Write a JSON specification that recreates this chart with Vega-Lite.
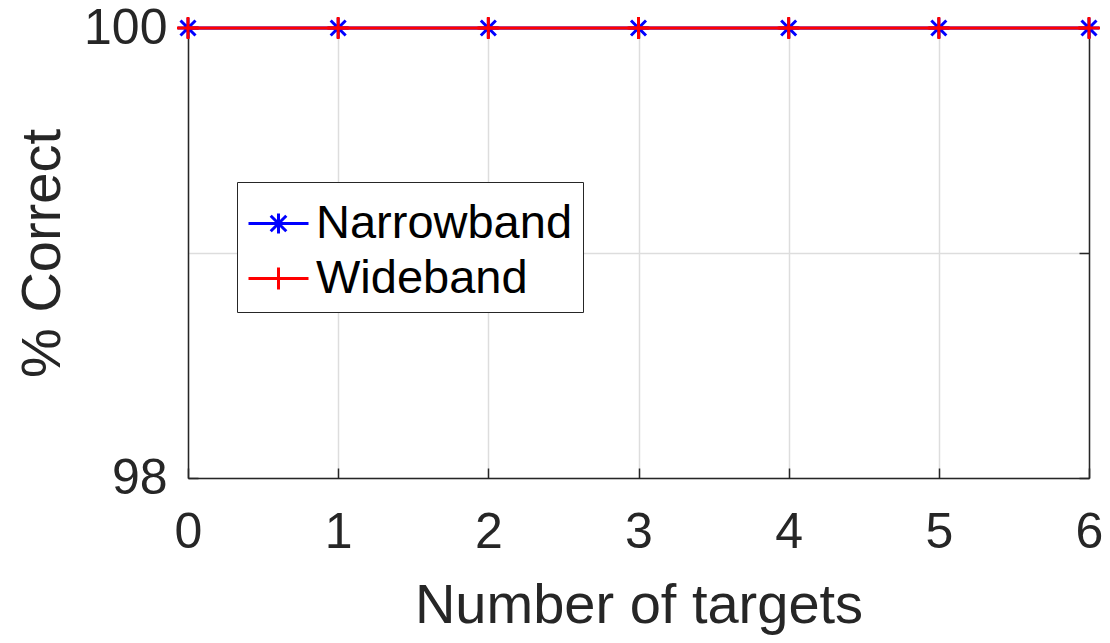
{
  "$schema": "https://vega.github.io/schema/vega-lite/v6.json",
  "autosize": "none",
  "width": 901,
  "height": 450,
  "padding": {"left": 188, "top": 28, "right": 20, "bottom": 165},
  "background": "white",
  "config": {
    "font": "Liberation Sans",
    "view": {"stroke": null},
    "axis": {
      "domainColor": "#262626",
      "domainWidth": 1.5,
      "tickColor": "#262626",
      "tickSize": -10,
      "tickWidth": 1.5,
      "gridColor": "#dddddd",
      "gridWidth": 1.5,
      "labelColor": "#262626",
      "labelFontSize": 50,
      "labelFlush": false,
      "titleColor": "#262626",
      "titleFontSize": 56,
      "titleFontWeight": "normal"
    }
  },
  "data": {
    "values": [
      {"targets": 0, "correct": 100, "series": "Narrowband"},
      {"targets": 1, "correct": 100, "series": "Narrowband"},
      {"targets": 2, "correct": 100, "series": "Narrowband"},
      {"targets": 3, "correct": 100, "series": "Narrowband"},
      {"targets": 4, "correct": 100, "series": "Narrowband"},
      {"targets": 5, "correct": 100, "series": "Narrowband"},
      {"targets": 6, "correct": 100, "series": "Narrowband"},
      {"targets": 0, "correct": 100, "series": "Wideband"},
      {"targets": 1, "correct": 100, "series": "Wideband"},
      {"targets": 2, "correct": 100, "series": "Wideband"},
      {"targets": 3, "correct": 100, "series": "Wideband"},
      {"targets": 4, "correct": 100, "series": "Wideband"},
      {"targets": 5, "correct": 100, "series": "Wideband"},
      {"targets": 6, "correct": 100, "series": "Wideband"}
    ]
  },
  "encoding": {
    "x": {
      "field": "targets", "type": "quantitative",
      "scale": {"domain": [0, 6], "nice": false, "zero": false},
      "axis": null
    },
    "y": {
      "field": "correct", "type": "quantitative",
      "scale": {"domain": [98, 100], "nice": false, "zero": false},
      "axis": null
    },
    "color": {
      "field": "series", "type": "nominal",
      "scale": {"domain": ["Narrowband", "Wideband"], "range": ["#0000ff", "#ff0000"]},
      "legend": null
    }
  },
  "resolve": {"axis": {"x": "independent", "y": "independent"}},
  "layer": [
    {
      "mark": {"type": "point", "opacity": 0},
      "encoding": {
        "x": {
          "field": "targets", "type": "quantitative",
          "axis": {"orient": "top", "values": [0, 1, 2, 3, 4, 5, 6], "labels": false, "title": null, "grid": true}
        },
        "y": {
          "field": "correct", "type": "quantitative",
          "axis": {"orient": "right", "values": [98, 99, 100], "labels": false, "title": null, "grid": true}
        },
        "color": {"value": "transparent"}
      }
    },
    {
      "transform": [{"filter": "datum.series === 'Narrowband'"}],
      "mark": {"type": "line", "strokeWidth": 3},
      "encoding": {
        "x": {
          "field": "targets", "type": "quantitative",
          "axis": {"orient": "bottom", "grid": false, "values": [0, 1, 2, 3, 4, 5, 6], "title": "Number of targets", "labelPadding": 39, "titlePadding": 21, "format": "d"}
        },
        "y": {
          "field": "correct", "type": "quantitative",
          "axis": {"orient": "left", "grid": false, "values": [98, 99, 100], "title": "% Correct", "labelPadding": 31, "titlePadding": 12, "format": "d"}
        },
        "color": {
          "field": "series", "type": "nominal",
          "legend": {
            "title": null,
            "orient": "none",
            "legendX": 49,
            "legendY": 154,
            "fillColor": "white",
            "strokeColor": "#262626",
            "padding": 10,
            "rowPadding": 0,
            "symbolSize": 3600,
            "symbolStrokeWidth": 3,
            "symbolFillColor": "transparent",
            "labelFontSize": 47,
            "labelColor": "black",
            "labelOffset": 6,
            "labelLimit": 500,
            "labelFont": "Liberation Sans",
            "encode": {
              "symbols": {
                "update": {
                  "shape": {"signal": "datum.value === 'Narrowband' ? 'M-1,0H1M0,-0.33V0.33M-0.26,-0.26L0.26,0.26M-0.26,0.26L0.26,-0.26' : 'M-1,0H1M0,-0.37V0.37'"},
                  "strokeWidth": {"value": 3},
                  "fill": {"value": "transparent"}
                }
              }
            }
          }
        }
      }
    },
    {
      "transform": [{"filter": "datum.series === 'Narrowband'"}],
      "mark": {"type": "point", "shape": "M-1,0H1M0,-1V1M-0.75,-0.75L0.75,0.75M-0.75,0.75L0.75,-0.75", "size": 400, "strokeWidth": 3, "filled": false, "opacity": 1}
    },
    {
      "transform": [{"filter": "datum.series === 'Wideband'"}],
      "mark": {"type": "line", "strokeWidth": 3}
    },
    {
      "transform": [{"filter": "datum.series === 'Wideband'"}],
      "mark": {"type": "point", "shape": "M-1,0H1M0,-1V1", "size": 484, "strokeWidth": 3, "filled": false, "opacity": 1}
    }
  ]
}
